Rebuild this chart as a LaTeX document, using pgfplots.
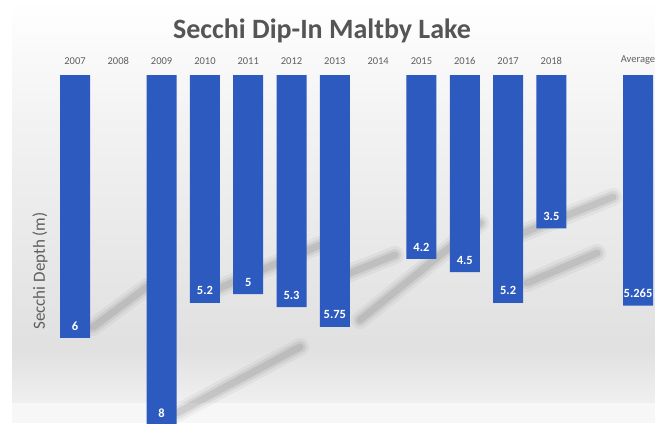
\documentclass[border=0pt]{standalone}
\usepackage{pgfplots}
\pgfplotsset{compat=1.18}
\usepackage{fontspec}
\setmainfont{Carlito}
\definecolor{barblue}{RGB}{44,90,190}
\definecolor{titlegray}{RGB}{85,85,85}
\definecolor{labgray}{RGB}{95,95,95}
\newcommand\streak[2]{\foreach \w/\o in {18/0.04,12/0.06,7/0.08}{\draw[line width=\w pt, line cap=round, black, opacity=\o] #1 -- #2;}}
\begin{document}
\begin{tikzpicture}[x=1pt,y=1pt]
\useasboundingbox (0,0) rectangle (655,423);
\clip (0,0) rectangle (655,423);
\fill[white] (0,0) rectangle (655,423);
\shade[top color=white, bottom color=black!5] (12,300) rectangle (655,423);
\shade[top color=black!5, bottom color=black!12] (12,75) rectangle (655,300);
\shade[top color=black!12, bottom color=black!6] (12,20) rectangle (655,75);
\fill[black!3] (12,0) rectangle (655,20);
\streak{(93,96)}{(147,136)}
\streak{(177,10)}{(300,76)}
\streak{(215,133)}{(320,178)}
\streak{(345,148)}{(395,168)}
\streak{(360,103)}{(480,200)}
\streak{(523,190)}{(613,226)}
\streak{(527,140)}{(597,170)}
\node[font=\bfseries\fontsize{28}{32}\selectfont, text=titlegray] at (322,392) {Secchi Dip-In Maltby Lake};
\node[font=\fontsize{17}{20}\selectfont, text=labgray, rotate=90] at (40,152) {Secchi Depth (m)};
\begin{axis}[
  at={(53.35pt,-2.4pt)}, anchor=south west,
  width=606.3pt, height=350.4pt, scale only axis,
  ybar, bar width=30pt,
  xmin=-0.5, xmax=13.5, ymin=0, ymax=8, y dir=reverse,
  xtick={0,1,2,3,4,5,6,7,8,9,10,11,13},
  xticklabels={2007,2008,2009,2010,2011,2012,2013,2014,2015,2016,2017,2018,Average},
  xticklabel pos=top,
  xticklabel style={font=\fontsize{10.5}{12}\selectfont, text=labgray, yshift=7pt},
  ytick=\empty,
  axis line style={draw=none},
  major tick length=0pt,
  clip=false,
  /pgf/number format/assume math mode=true,
  /pgf/number format/precision=3,
]
\addplot[fill=barblue, draw=none,
  nodes near coords,
  every node near coord/.append style={font=\bfseries\fontsize{12.5}{14}\selectfont, text=white, anchor=center, yshift=12pt}]
  coordinates {(0,6) (2,8) (3,5.2) (4,5) (5,5.3) (6,5.75) (8,4.2) (9,4.5) (10,5.2) (11,3.5) (13,5.265)};
\end{axis}
\end{tikzpicture}
\end{document}
